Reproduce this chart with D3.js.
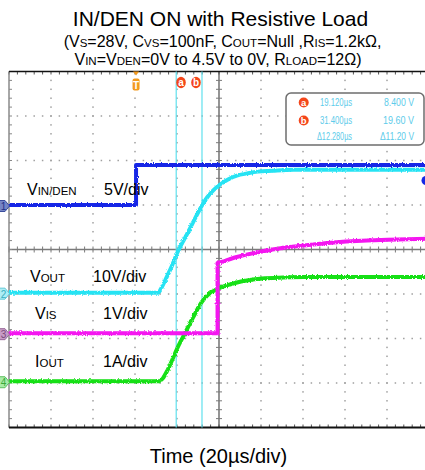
<!DOCTYPE html>
<html>
<head>
<meta charset="utf-8">
<script src="https://cdn.jsdelivr.net/npm/d3@7"></script>
<style>
  html, body { margin: 0; padding: 0; background: #fff; }
  svg { display: block; font-family: "Liberation Sans", Arial, sans-serif; }
</style>
</head>
<body>
<svg id="chart" width="425" height="470"></svg>
<script>
// ---- captured waveforms (time in µs relative to trigger) ----
const vinTime   = [-60.5, 0, 0, 139.5];
const vinVolts  = [0, 0, 4.5, 4.5];

const voutTime  = [-60.5, 10.5, 12, 14, 16.5, 19.12, 25, 31.4, 34, 37, 40, 44, 48, 53, 58, 65, 75, 90, 139.5];
const voutVolts = [0, 0, 1.0, 2.9, 5.4, 8.4, 13.8, 19.6, 21.5, 23.1, 24.3, 25.5, 26.3, 26.8, 27.2, 27.4, 27.6, 27.6, 27.6];

const visTime   = [-60.5, 38.8, 38.8, 42, 47, 52, 58, 65, 72, 80, 90, 100, 110, 120, 139.5];
const visVolts  = [0, 0, 1.58, 1.62, 1.70, 1.76, 1.82, 1.88, 1.93, 1.97, 2.02, 2.06, 2.08, 2.10, 2.12];

const ioutTime  = [-60.5, 11, 12.5, 15, 20, 23.3, 27, 31, 34, 37, 41, 45, 50, 55, 60, 70, 80, 139.5];
const ioutAmps  = [0, 0, 0.05, 0.25, 0.78, 1.08, 1.42, 1.76, 1.93, 2.03, 2.12, 2.18, 2.24, 2.28, 2.31, 2.33, 2.34, 2.34];

// cursor readouts
const cursorNames  = ["a", "b"];
const cursorTimes  = [19.12, 31.4];
const cursorVolts  = [8.4, 19.6];

// scope settings
const timeWindow   = [-60.5, 139.5];   // 20 µs/div, 10 divisions
const channelNames = ["VIN/DEN", "VOUT", "VIS", "IOUT"];
const channelScale = [5, 10, 1, 1];          // units per division
const channelScaleLabels = ["5V/div", "10V/div", "1V/div", "1A/div"];
const channelOffset = [1.0, -0.97, -1.88, -2.96]; // ground position, divisions from centre

const svg = d3.select("#chart");

const plotLeft = 9, plotRight = 429, plotTop = 71.5, plotBottom = 427.5;
const x = d3.scaleLinear().domain(timeWindow).range([plotLeft, plotRight]);
const yDiv = d3.scaleLinear().domain([-4, 4]).range([plotBottom, plotTop]);
const chY = (ch, v) => yDiv(channelOffset[ch] + v / channelScale[ch]);

// ---- title ----
svg.append("text").attr("x", 220.5).attr("y", 26).attr("text-anchor", "middle")
  .attr("font-size", 21).attr("fill", "#000").text("IN/DEN ON with Resistive Load");

const sub1 = svg.append("text").attr("x", 222.5).attr("y", 46.5).attr("text-anchor", "middle")
  .attr("font-size", 16).attr("fill", "#000");
[["(V"], ["S", 1], ["=28V, C"], ["VS", 1], ["=100nF, C"], ["OUT", 1], ["=Null ,R"], ["IS", 1], ["=1.2kΩ,"]]
  .forEach(([s, sb]) => { const ts = sub1.append("tspan").text(s); if (sb) ts.attr("font-size", 11.5); });
const sub2 = svg.append("text").attr("x", 218).attr("y", 65).attr("text-anchor", "middle")
  .attr("font-size", 16).attr("fill", "#000");
[["V"], ["IN", 1], ["=V"], ["DEN", 1], ["=0V to 4.5V to 0V, R"], ["LOAD", 1], ["=12Ω)"]]
  .forEach(([s, sb]) => { const ts = sub2.append("tspan").text(s); if (sb) ts.attr("font-size", 11.5); });

svg.append("text").attr("x", 218.5).attr("y", 463).attr("text-anchor", "middle")
  .attr("font-size", 20).attr("fill", "#000").text("Time (20µs/div)");

// ---- graticule ----
const grid = svg.append("g");
const majorT = d3.range(0, 11).map(k => timeWindow[0] + 20 * k);
const minorT = d3.range(0, 51).map(k => timeWindow[0] + 4 * k);
const majorV = d3.range(-4, 5);
const minorV = d3.range(0, 41).map(k => -4 + 0.2 * k);

// dotted division lines
majorT.filter((t, i) => i > 0 && i < 10 && i !== 5).forEach(t => {
  grid.selectAll(null).data(minorV.filter(v => v > -4 && v < 4)).enter().append("rect")
    .attr("x", x(t) - 0.75).attr("y", v => yDiv(v) - 0.75).attr("width", 1.5).attr("height", 1.5)
    .attr("fill", "#a0a0a0");
});
majorV.filter(v => v !== 0 && Math.abs(v) !== 4).forEach(v => {
  grid.selectAll(null).data(minorT.filter((t, i) => i > 0)).enter().append("rect")
    .attr("x", t => x(t) - 0.75).attr("y", yDiv(v) - 0.75).attr("width", 1.5).attr("height", 1.5)
    .attr("fill", "#a0a0a0");
});

// centre axes with minor ticks
const cx = x(timeWindow[0] + 100), cy = yDiv(0);
grid.append("line").attr("x1", plotLeft).attr("x2", plotRight).attr("y1", cy).attr("y2", cy)
  .attr("stroke", "#7a7a7a").attr("stroke-width", 1.6);
grid.append("line").attr("x1", cx).attr("x2", cx).attr("y1", plotTop).attr("y2", plotBottom)
  .attr("stroke", "#7a7a7a").attr("stroke-width", 1.6);
grid.selectAll(null).data(minorT).enter().append("line")
  .attr("x1", t => x(t)).attr("x2", t => x(t)).attr("y1", cy - 3).attr("y2", cy + 3)
  .attr("stroke", "#7a7a7a").attr("stroke-width", 1);
grid.selectAll(null).data(minorV).enter().append("line")
  .attr("x1", cx - 3).attr("x2", cx + 3).attr("y1", v => yDiv(v)).attr("y2", v => yDiv(v))
  .attr("stroke", "#7a7a7a").attr("stroke-width", 1);

// frame with edge ticks
grid.selectAll(null).data(minorT).enter().append("line")
  .attr("x1", t => x(t)).attr("x2", t => x(t)).attr("y1", plotTop).attr("y2", plotTop + 3)
  .attr("stroke", "#555").attr("stroke-width", 1);
grid.selectAll(null).data(minorT).enter().append("line")
  .attr("x1", t => x(t)).attr("x2", t => x(t)).attr("y1", plotBottom - 3).attr("y2", plotBottom)
  .attr("stroke", "#555").attr("stroke-width", 1);
grid.selectAll(null).data(minorV).enter().append("line")
  .attr("x1", plotLeft).attr("x2", plotLeft + 3).attr("y1", v => yDiv(v)).attr("y2", v => yDiv(v))
  .attr("stroke", "#888").attr("stroke-width", 1);
grid.append("line").attr("x1", plotLeft).attr("x2", plotLeft).attr("y1", plotTop).attr("y2", plotBottom)
  .attr("stroke", "#8a8a8a").attr("stroke-width", 1.5);
grid.append("line").attr("x1", plotLeft).attr("x2", plotRight).attr("y1", plotTop).attr("y2", plotTop)
  .attr("stroke", "#111").attr("stroke-width", 1.5);
grid.append("line").attr("x1", plotLeft).attr("x2", plotRight).attr("y1", plotBottom).attr("y2", plotBottom)
  .attr("stroke", "#111").attr("stroke-width", 2);

// ---- cursors ----
const cursorColor = "#5fe0ee";
cursorTimes.forEach(t => {
  svg.append("line").attr("x1", x(t)).attr("x2", x(t)).attr("y1", plotTop).attr("y2", plotBottom)
    .attr("stroke", cursorColor).attr("stroke-width", 1.2);
});

// ---- traces (slight edge roughness from a seeded turbulence filter) ----
const defs = svg.append("defs");
const f = defs.append("filter").attr("id", "noise").attr("x", "-5%").attr("y", "-20%")
  .attr("width", "110%").attr("height", "140%");
f.append("feTurbulence").attr("type", "fractalNoise").attr("baseFrequency", "1.2 0.6")
  .attr("numOctaves", 1).attr("seed", 4).attr("result", "n");
f.append("feDisplacementMap").attr("in", "SourceGraphic").attr("in2", "n").attr("scale", 3.2)
  .attr("xChannelSelector", "R").attr("yChannelSelector", "G");

const traces = [
  { ch: 3, t: ioutTime, v: ioutAmps,  color: "#16e016" },
  { ch: 2, t: visTime,  v: visVolts,  color: "#f414f0" },
  { ch: 1, t: voutTime, v: voutVolts, color: "#27e3f3" },
  { ch: 0, t: vinTime,  v: vinVolts,  color: "#1428e6" }
];
const smooth = d3.line().curve(d3.curveMonotoneX);
const straight = d3.line();
traces.forEach(tr => {
  const pts = tr.t.map((t, i) => [x(t), chY(tr.ch, tr.v[i])]);
  const hasStep = tr.t.some((t, i) => i > 0 && t === tr.t[i - 1]);
  svg.append("path")
    .attr("d", (hasStep ? straight : smooth)(pts))
    .attr("fill", "none").attr("stroke", tr.color).attr("stroke-width", 4)
    .attr("stroke-linejoin", "round")
    .attr("filter", "url(#noise)");
});

// ---- channel labels ----
const labelPos = [[27, 195, 104], [30, 282, 93], [35, 319, 103], [35, 367, 103]];
channelNames.forEach((name, i) => {
  const [lx, ly, sx] = labelPos[i];
  const t = svg.append("text").attr("x", lx).attr("y", ly).attr("font-size", 16).attr("fill", "#000");
  t.append("tspan").text(name[0]);
  t.append("tspan").attr("font-size", 11.5).text(name.slice(1));
  svg.append("text").attr("x", sx).attr("y", ly).attr("font-size", 16).attr("fill", "#000")
    .text(channelScaleLabels[i]);
});

// ---- channel ground markers ----
const markerFill   = ["#7585c6", "#aeeef6", "#c79cc7", "#a8eca8"];
const markerStroke = ["#3a4c9c", "#62c8d6", "#9a6a9a", "#5fbf5f"];
const markerText   = ["#1e2f86", "#3aaec0", "#7a4a7a", "#3aa83a"];
channelOffset.forEach((o, i) => {
  const my = yDiv(o) + 1;
  const g = svg.append("g").attr("transform", `translate(0,${my})`);
  g.append("path").attr("d", "M-1,-5.5 L5,-5.5 L9.5,0 L5,5.5 L-1,5.5 Z")
    .attr("fill", markerFill[i]).attr("stroke", markerStroke[i]).attr("stroke-width", 1);
  g.append("text").attr("x", 3.5).attr("y", 4).attr("text-anchor", "middle")
    .attr("font-size", 10).attr("fill", markerText[i]).text(i + 1);
});

// trigger level marker (right edge)
svg.append("circle").attr("cx", 426).attr("cy", 180.5).attr("r", 4.5).attr("fill", "#1428e6");

// ---- trigger and cursor tags on top ----
const tx = x(0);
svg.append("path").attr("d", `M${tx - 3},${plotTop} L${tx + 3},${plotTop} L${tx},${plotTop + 4} Z`)
  .attr("fill", "#f39a1e");
svg.append("rect").attr("x", tx - 3.5).attr("y", 78.5).attr("width", 7).attr("height", 12).attr("rx", 2)
  .attr("fill", "#f39a1e");
svg.append("text").attr("x", tx).attr("y", 88.5).attr("text-anchor", "middle").attr("font-size", 10)
  .attr("font-weight", "bold").attr("fill", "#fff").text("T");

const tagX = [181, 196];
cursorNames.forEach((n, i) => {
  svg.append("ellipse").attr("cx", tagX[i]).attr("cy", 82.5).attr("rx", 4.8).attr("ry", 5.8).attr("fill", "#f4461a");
  svg.append("text").attr("x", tagX[i]).attr("y", 86).attr("text-anchor", "middle").attr("font-size", 10)
    .attr("font-weight", "bold").attr("fill", "#fff").text(n);
});

// ---- cursor readout box ----
const box = svg.append("g");
box.append("rect").attr("x", 286).attr("y", 93).attr("width", 138).attr("height", 52).attr("rx", 5)
  .attr("fill", "#fff").attr("stroke", "#6e6e6e").attr("stroke-width", 1.5);
const readColor = "#5ccbea";
const fmtT = d => d.toFixed(3) + "µs";
const fmtV = (d, n) => d.toFixed(n) + " V";
const rows = [
  { tag: "a", tText: fmtT(cursorTimes[0]), vText: fmtV(cursorVolts[0], 3), y: 106, tw: 32, vw: 30 },
  { tag: "b", tText: fmtT(cursorTimes[1]), vText: fmtV(cursorVolts[1], 2), y: 124, tw: 32, vw: 31 },
  { tag: null, tText: "Δ" + fmtT(cursorTimes[1] - cursorTimes[0]),
    vText: "Δ" + fmtV(cursorVolts[1] - cursorVolts[0], 2), y: 140, tw: 35, vw: 34 }
];
rows.forEach(r => {
  if (r.tag) {
    box.append("circle").attr("cx", 303.7).attr("cy", r.y - 3.5).attr("r", 5).attr("fill", "#f4461a");
    box.append("text").attr("x", 303.7).attr("y", r.y).attr("text-anchor", "middle").attr("font-size", 9.5)
      .attr("font-weight", "bold").attr("fill", "#fff").text(r.tag);
  }
  box.append("text").attr("x", 352).attr("y", r.y).attr("text-anchor", "end").attr("font-size", 11)
    .attr("fill", readColor).attr("textLength", r.tw).attr("lengthAdjust", "spacingAndGlyphs").text(r.tText);
  box.append("text").attr("x", 414).attr("y", r.y).attr("text-anchor", "end").attr("font-size", 11)
    .attr("fill", readColor).attr("textLength", r.vw).attr("lengthAdjust", "spacingAndGlyphs").text(r.vText);
});
</script>
</body>
</html>
